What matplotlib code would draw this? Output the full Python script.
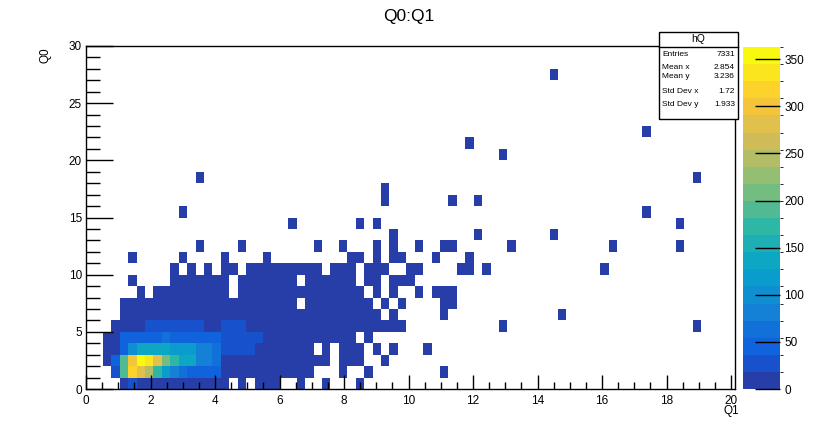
import numpy as np
import matplotlib
matplotlib.use("Agg")
import matplotlib.pyplot as plt
from matplotlib.colors import ListedColormap, BoundaryNorm
from matplotlib.patches import Rectangle
from matplotlib.ticker import MultipleLocator

plt.rcParams['font.family'] = ['Liberation Sans', 'DejaVu Sans']

# histogram binning
n_xbins = 77
x_max = 20.12
n_ybins = 30
y_max = 30

# occupied bins per Q0 row: (first Q1 bin, last Q1 bin)
occ_runs = {
    0: [(4, 16), (18, 18), (20, 22), (25, 25), (28, 28), (32, 32)],
    1: [(3, 26), (30, 30), (33, 33), (42, 42)],
    2: [(2, 28), (30, 32), (35, 35)],
    3: [(2, 26), (28, 28), (30, 32), (34, 34), (36, 36), (40, 40)],
    4: [(2, 31), (33, 33)],
    5: [(3, 37), (49, 49), (72, 72)],
    6: [(4, 34), (36, 36), (42, 42), (56, 56)],
    7: [(4, 24), (26, 33), (35, 35), (37, 37), (42, 43)],
    8: [(6, 6), (8, 16), (18, 32), (34, 34), (36, 36), (39, 39), (41, 43)],
    9: [(5, 5), (10, 16), (18, 24), (26, 31), (33, 34), (36, 38)],
    10: [(10, 10), (12, 12), (14, 14), (16, 17), (19, 27), (29, 31), (33, 35),
         (38, 39), (44, 45), (47, 47), (61, 61)],
    11: [(5, 5), (11, 11), (16, 16), (21, 21), (31, 32), (34, 34), (36, 37),
         (41, 41), (45, 45)],
    12: [(13, 13), (18, 18), (27, 27), (30, 30), (34, 34), (36, 36), (39, 39),
         (42, 43), (50, 50), (62, 62), (70, 70)],
    13: [(36, 36), (46, 46), (55, 55)],
    14: [(24, 24), (32, 32), (34, 34), (70, 70)],
    15: [(11, 11), (66, 66)],
    16: [(35, 35), (43, 43), (46, 46)],
    17: [(35, 35)],
    18: [(13, 13), (72, 72)],
    20: [(49, 49)],
    21: [(45, 45)],
    22: [(66, 66)],
    27: [(55, 55)],
}
low_count = 4

# estimated contents of the brighter bins: row -> (first bin, contents)
hot_bins = {
    0: (4, [4, 30]),
    1: (3, [35, 190, 320, 290, 240, 170, 115, 80, 65, 50, 45, 45, 40]),
    2: (2, [6, 45, 190, 295, 363, 330, 290, 215, 175, 145, 140, 85, 80, 60]),
    3: (2, [8, 10, 45, 100, 135, 135, 130, 130, 125, 125, 110, 85, 85, 70,
            30, 30, 30, 30]),
    4: (2, [10, 12, 45, 45, 45, 45, 45, 60, 45, 45, 45, 45, 45, 45,
            30, 30, 30, 30, 30]),
    5: (7, [25, 25, 25, 25, 25, 25, 25, 10, 10, 25, 25, 25]),
}

stat_names = ["Entries", "Mean x", "Mean y", "Std Dev x", "Std Dev y"]
stat_values = ["7331", "2.854", "3.236", "1.72", "1.933"]

# kBird palette stops
bird_r = [0.2082, 0.0592, 0.0780, 0.0232, 0.1802, 0.5301, 0.8186, 0.9956, 0.9764]
bird_g = [0.1664, 0.3599, 0.5041, 0.6419, 0.7178, 0.7492, 0.7328, 0.7862, 0.9832]
bird_b = [0.5293, 0.8684, 0.8385, 0.7914, 0.6425, 0.4662, 0.3499, 0.1968, 0.0539]
stops = np.linspace(0, 1, 9)
n_cont = 20
band_cols = []
for i in range(n_cont):
    t = int((i + 0.99) * 255 / n_cont) / 255
    band_cols.append((np.interp(t, stops, bird_r), np.interp(t, stops, bird_g),
                      np.interp(t, stops, bird_b)))
cmap = ListedColormap(band_cols)

counts = np.zeros((n_ybins, n_xbins))
for row, runs in occ_runs.items():
    for a, b in runs:
        counts[row, a:b + 1] = low_count
for row, (start, vals) in hot_bins.items():
    counts[row, start:start + len(vals)] = vals

zmax = counts.max()
norm = BoundaryNorm(np.linspace(0, zmax, n_cont + 1), n_cont)

W, H = 817, 428
fig = plt.figure(figsize=(W / 100, H / 100), dpi=100)

def fx(px):
    return px / W

def fy(py):
    return 1 - py / H

ax = fig.add_axes([fx(86), fy(389), fx(735) - fx(86), fy(46) - fy(389)])
xe = np.linspace(0, x_max, n_xbins + 1)
ye = np.linspace(0, y_max, n_ybins + 1)
mesh = ax.pcolormesh(xe, ye, np.ma.masked_equal(counts, 0), cmap=cmap, norm=norm,
                     antialiased=False, edgecolors='none')
ax.set_xlim(0, x_max)
ax.set_ylim(0, y_max)
ax.set_xticks(range(0, 21, 2))
ax.set_yticks(range(0, 31, 5))
ax.xaxis.set_minor_locator(MultipleLocator(0.5))
ax.yaxis.set_minor_locator(MultipleLocator(1))
ax.tick_params(which='both', direction='in', top=False, right=False,
               labelsize=8.5, colors='black', width=1)
ax.xaxis.set_tick_params(which='major', length=10, pad=4)
ax.xaxis.set_tick_params(which='minor', length=5)
ax.yaxis.set_tick_params(which='major', length=19.5, pad=3)
ax.yaxis.set_tick_params(which='minor', length=10)
for s in ax.spines.values():
    s.set_linewidth(1)
    s.set_color('black')

cax = fig.add_axes([fx(743), fy(389), fx(780) - fx(743), fy(47) - fy(389)])
cb = fig.colorbar(mesh, cax=cax, ticks=range(0, 351, 50))
cb.outline.set_visible(False)
cax.tick_params(direction='in', length=18, width=1, labelsize=8.5, pad=3)

fig.text(fx(409), fy(17), "Q0:Q1", ha='center', va='center', fontsize=12.5)
fig.text(fx(739), fy(411), "Q1", ha='right', va='center', fontsize=8.5)
fig.text(fx(45), fy(47), "Q0", ha='center', va='top', rotation=90, fontsize=8.5)

# stats box
bx0, bx1, by0, by1, byh = 659, 738, 32, 119, 47
fig.patches.append(Rectangle((fx(bx0), fy(by1)), fx(bx1) - fx(bx0), fy(by0) - fy(by1),
                             transform=fig.transFigure, facecolor='white',
                             edgecolor='black', linewidth=1, zorder=5))
fig.lines.append(plt.Line2D([fx(bx0), fx(bx1)], [fy(byh), fy(byh)],
                            transform=fig.transFigure, color='black', linewidth=1, zorder=6))
fig.text(fx((bx0 + bx1) / 2), fy(39.5), "hQ", ha='center', va='center',
         fontsize=7.5, zorder=7)
stat_y = [54.3, 67.7, 76.7, 91.7, 104.3]
for name, val, yy in zip(stat_names, stat_values, stat_y):
    fig.text(fx(bx0 + 3), fy(yy), name, ha='left', va='center', fontsize=6, zorder=7)
    fig.text(fx(bx1 - 3), fy(yy), val, ha='right', va='center', fontsize=6, zorder=7)

fig.savefig("out.png", dpi=100)
